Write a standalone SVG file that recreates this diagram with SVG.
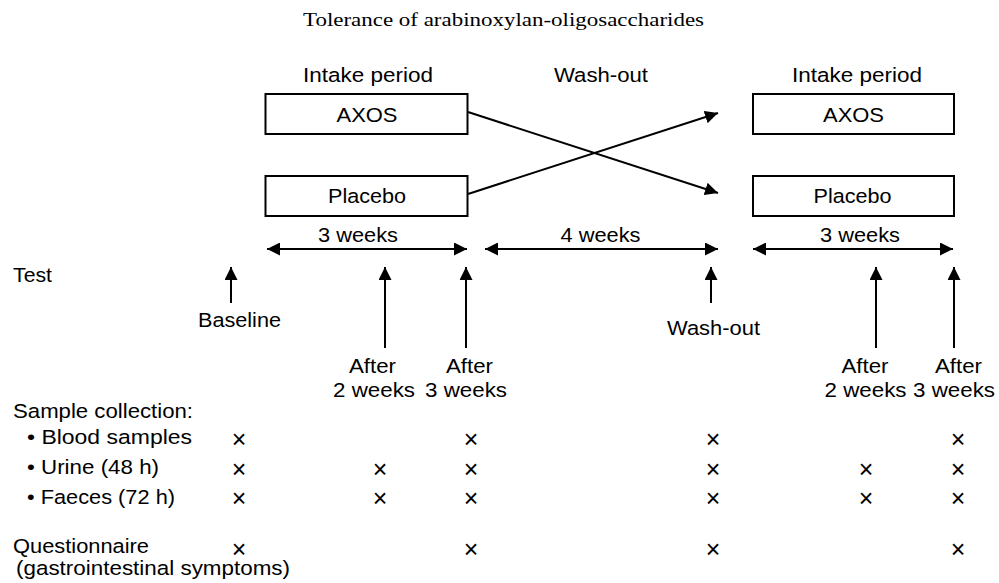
<svg xmlns="http://www.w3.org/2000/svg" width="999" height="583" viewBox="0 0 999 583">
<style>
  text { fill: #000; }
  .t { font-family: "Liberation Serif", "Times New Roman", serif; font-size: 19px; }
  .l { font-family: "Liberation Sans", Arial, Helvetica, sans-serif; font-size: 20.5px; }
  .x { font-family: "Liberation Sans", Arial, Helvetica, sans-serif; font-size: 25px; text-anchor: middle; }
  .box { fill: #fff; stroke: #000; stroke-width: 2; }
  .c { fill: none; stroke: #000; stroke-width: 2; }
  .h { marker-end: url(#ah); }
  .d { marker-start: url(#ah); marker-end: url(#ah); }
</style>
<defs>
  <marker id="ah" markerUnits="userSpaceOnUse" markerWidth="14" markerHeight="13" refX="13" refY="6.5" orient="auto-start-reverse">
    <path d="M0,0 L13,6.5 L0,13 Z" fill="#000"/>
  </marker>
</defs>
<rect width="999" height="583" fill="#fff"/>

<g id="title">
  <text class="t" x="303" y="26" textLength="401" lengthAdjust="spacingAndGlyphs">Tolerance of arabinoxylan-oligosaccharides</text>
</g>

<g id="headers">
  <text class="l" x="303" y="82" textLength="130" lengthAdjust="spacingAndGlyphs">Intake period</text>
  <text class="l" x="554" y="82" textLength="94" lengthAdjust="spacingAndGlyphs">Wash-out</text>
  <text class="l" x="792" y="82" textLength="130" lengthAdjust="spacingAndGlyphs">Intake period</text>
</g>

<g id="axos-1">
  <rect class="box" x="265.5" y="94" width="202" height="40"/>
  <text class="l" x="336.5" y="122" textLength="61" lengthAdjust="spacingAndGlyphs">AXOS</text>
</g>
<g id="placebo-1">
  <rect class="box" x="265.5" y="176" width="202" height="40"/>
  <text class="l" x="328" y="203" textLength="78" lengthAdjust="spacingAndGlyphs">Placebo</text>
</g>
<g id="axos-2">
  <rect class="box" x="753" y="94" width="201" height="40"/>
  <text class="l" x="823" y="122" textLength="61" lengthAdjust="spacingAndGlyphs">AXOS</text>
</g>
<g id="placebo-2">
  <rect class="box" x="753" y="176" width="201" height="40"/>
  <text class="l" x="813.5" y="203" textLength="78" lengthAdjust="spacingAndGlyphs">Placebo</text>
</g>

<g id="durations">
  <text class="l" x="318" y="242" textLength="80" lengthAdjust="spacingAndGlyphs">3 weeks</text>
  <text class="l" x="560.5" y="242" textLength="80" lengthAdjust="spacingAndGlyphs">4 weeks</text>
  <text class="l" x="820" y="242" textLength="80" lengthAdjust="spacingAndGlyphs">3 weeks</text>
</g>

<g id="connectors">
  <line class="c h" x1="468" y1="112" x2="718" y2="193"/>
  <line class="c h" x1="468" y1="194" x2="718" y2="113"/>
  <line class="c d" x1="267" y1="249" x2="467" y2="249"/>
  <line class="c d" x1="485" y1="249" x2="718" y2="249"/>
  <line class="c d" x1="753" y1="249" x2="953" y2="249"/>
  <line class="c h" x1="231" y1="303" x2="231" y2="267"/>
  <line class="c h" x1="385" y1="348" x2="385" y2="267"/>
  <line class="c h" x1="466" y1="348" x2="466" y2="267"/>
  <line class="c h" x1="711" y1="303" x2="711" y2="267"/>
  <line class="c h" x1="876" y1="348" x2="876" y2="267"/>
  <line class="c h" x1="954" y1="348" x2="954" y2="267"/>
</g>

<g id="test-labels">
  <text class="l" x="13" y="281.5" textLength="39" lengthAdjust="spacingAndGlyphs">Test</text>
  <text class="l" x="198" y="327" textLength="83" lengthAdjust="spacingAndGlyphs">Baseline</text>
  <text class="l" x="349" y="373" textLength="47" lengthAdjust="spacingAndGlyphs">After</text>
  <text class="l" x="333" y="397" textLength="82" lengthAdjust="spacingAndGlyphs">2 weeks</text>
  <text class="l" x="446" y="373" textLength="47" lengthAdjust="spacingAndGlyphs">After</text>
  <text class="l" x="425" y="397" textLength="82" lengthAdjust="spacingAndGlyphs">3 weeks</text>
  <text class="l" x="667" y="335" textLength="93" lengthAdjust="spacingAndGlyphs">Wash-out</text>
  <text class="l" x="841.5" y="373" textLength="47" lengthAdjust="spacingAndGlyphs">After</text>
  <text class="l" x="824.5" y="397" textLength="82" lengthAdjust="spacingAndGlyphs">2 weeks</text>
  <text class="l" x="935" y="373" textLength="47" lengthAdjust="spacingAndGlyphs">After</text>
  <text class="l" x="913" y="397" textLength="82" lengthAdjust="spacingAndGlyphs">3 weeks</text>
</g>

<g id="samples">
  <text class="l" x="13" y="418" textLength="180" lengthAdjust="spacingAndGlyphs">Sample collection:</text>
  <text class="l" x="27" y="444" textLength="165" lengthAdjust="spacingAndGlyphs">• Blood samples</text>
  <text class="l" x="27" y="474" textLength="132" lengthAdjust="spacingAndGlyphs">• Urine (48 h)</text>
  <text class="l" x="27" y="503.5" textLength="148" lengthAdjust="spacingAndGlyphs">• Faeces (72 h)</text>
  <text class="l" x="13" y="553" textLength="136" lengthAdjust="spacingAndGlyphs">Questionnaire</text>
  <text class="l" x="16" y="575" textLength="274" lengthAdjust="spacingAndGlyphs">(gastrointestinal symptoms)</text>
</g>

<g id="marks">
  <text class="x" x="239" y="447.8">×</text>
  <text class="x" x="471" y="447.8">×</text>
  <text class="x" x="713" y="447.8">×</text>
  <text class="x" x="958" y="447.8">×</text>

  <text class="x" x="239" y="477.8">×</text>
  <text class="x" x="380" y="477.8">×</text>
  <text class="x" x="471" y="477.8">×</text>
  <text class="x" x="713" y="477.8">×</text>
  <text class="x" x="866" y="477.8">×</text>
  <text class="x" x="958" y="477.8">×</text>

  <text class="x" x="239" y="507.3">×</text>
  <text class="x" x="380" y="507.3">×</text>
  <text class="x" x="471" y="507.3">×</text>
  <text class="x" x="713" y="507.3">×</text>
  <text class="x" x="866" y="507.3">×</text>
  <text class="x" x="958" y="507.3">×</text>

  <text class="x" x="239" y="557.8">×</text>
  <text class="x" x="471" y="557.8">×</text>
  <text class="x" x="713" y="557.8">×</text>
  <text class="x" x="958" y="557.8">×</text>
</g>
</svg>
